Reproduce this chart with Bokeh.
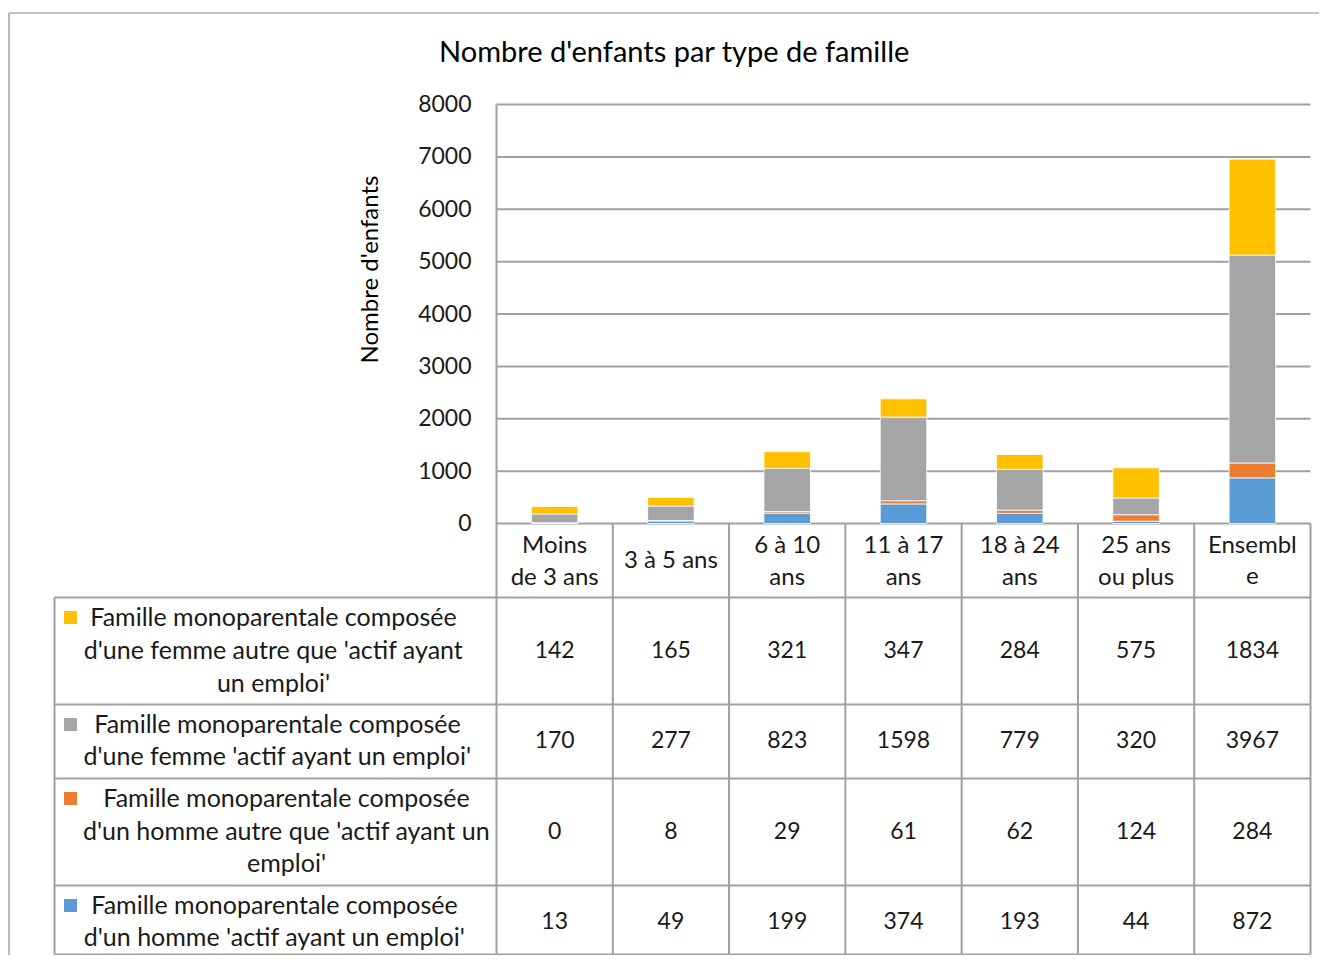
from bokeh.plotting import figure
from bokeh.models import Range1d, ColumnDataSource
from bokeh.core.properties import value
from bokeh.embed import file_html
from bokeh.resources import INLINE
import math

# ---------------- data ----------------
CATEGORIES = ["Moins de 3 ans", "3 à 5 ans", "6 à 10 ans", "11 à 17 ans",
              "18 à 24 ans", "25 ans ou plus", "Ensemble"]
CAT_LINES = [["Moins", "de 3 ans"], ["3 à 5 ans"], ["6 à 10", "ans"], ["11 à 17", "ans"],
             ["18 à 24", "ans"], ["25 ans", "ou plus"], ["Ensembl", "e"]]

FEMME_AUTRE = [142, 165, 321, 347, 284, 575, 1834]
FEMME_ACTIF = [170, 277, 823, 1598, 779, 320, 3967]
HOMME_AUTRE = [0, 8, 29, 61, 62, 124, 284]
HOMME_ACTIF = [13, 49, 199, 374, 193, 44, 872]

SERIES_LINES = [
    ["Famille monoparentale composée", "d'une femme autre que 'actif ayant", "un emploi'"],
    ["Famille monoparentale composée", "d'une femme 'actif ayant un emploi'"],
    ["Famille monoparentale composée", "d'un homme autre que 'actif ayant un", "emploi'"],
    ["Famille monoparentale composée", "d'un homme 'actif ayant un emploi'"],
]
TICKS = [0, 1000, 2000, 3000, 4000, 5000, 6000, 7000, 8000]
TITLE = "Nombre d'enfants par type de famille"
Y_LABEL = "Nombre d'enfants"

# ---------------- style / layout ----------------
C_YELLOW, C_GRAY, C_ORANGE, C_BLUE = "#FFC000", "#A5A5A5", "#ED7D31", "#5B9BD5"
LINE_C = "#a0a0a0"
TXT_C = "#1a1a1a"
FONT = value("Lato")
FS_NUM = "23px"
FS_TXT = "25px"
FS_CAT = "24px"
YOFF = -2

W, H = 1319, 955
OFF = 0
PLOT_L, PLOT_R = 496, 1310
Y0_PX, YMAX_PX = 523, 104
NCOL = len(CATEGORIES)
COL_W = (PLOT_R - PLOT_L) / NCOL
PX_PER_UNIT = (Y0_PX - YMAX_PX) / TICKS[-1]

TABLE_L = 54
ROW_BOUNDS = [597, 704, 778, 885, 954]
ROW_LINE_Y = [[617, 650, 683], [724, 756], [798, 831, 863], [905, 937]]
ROW_TEXT_X = [273, 277, 286, 274]
KEY_X = 70
HEADER_LINES_Y = {1: [560], 2: [545, 577]}

x_rng = Range1d((OFF - PLOT_L) / COL_W, (OFF + W - PLOT_L) / COL_W)
y_rng = Range1d((Y0_PX - (OFF + H)) / PX_PER_UNIT, (Y0_PX - OFF) / PX_PER_UNIT)

p = figure(width=W, height=H, x_range=x_rng, y_range=y_rng,
           output_backend="svg", toolbar_location=None, min_border=0,
           x_axis_type=None, y_axis_type=None)
p.outline_line_color = None
p.background_fill_color = "white"
p.border_fill_color = "white"
p.extra_x_ranges = {"px": Range1d(OFF, OFF + W)}
p.extra_y_ranges = {"px": Range1d(OFF + H, OFF)}

# outer border
p.segment(x0=[8.5, 8.5], y0=[12.5, 12.5], x1=[8.5, OFF + W], y1=[OFF + H, 12.5],
          x_range_name="px", y_range_name="px", line_color="#8a8a8a", line_width=1.2)

# gridlines (data units)
p.segment(x0=[0] * (len(TICKS)), x1=[NCOL] * len(TICKS), y0=TICKS, y1=TICKS,
          line_color=LINE_C, line_width=2)

# table lines (page px)
hx0, hx1, hy = [], [], []
for yb in ROW_BOUNDS:
    hx0.append(TABLE_L); hx1.append(PLOT_R); hy.append(yb)
p.segment(x0=hx0, x1=hx1, y0=hy, y1=hy, x_range_name="px", y_range_name="px",
          line_color=LINE_C, line_width=2)
vx = [PLOT_L + k * COL_W for k in range(1, NCOL + 1)]
p.segment(x0=vx, x1=vx, y0=[Y0_PX] * len(vx), y1=[ROW_BOUNDS[-1]] * len(vx),
          x_range_name="px", y_range_name="px", line_color=LINE_C, line_width=2)
p.segment(x0=[PLOT_L, TABLE_L], x1=[PLOT_L, TABLE_L], y0=[YMAX_PX, ROW_BOUNDS[0]],
          y1=[ROW_BOUNDS[-1], ROW_BOUNDS[-1]],
          x_range_name="px", y_range_name="px", line_color=LINE_C, line_width=2)

# stacked bars
src = ColumnDataSource(dict(
    x=[i + 0.5 for i in range(NCOL)],
    homme_actif=HOMME_ACTIF, homme_autre=HOMME_AUTRE,
    femme_actif=FEMME_ACTIF, femme_autre=FEMME_AUTRE))
p.vbar_stack(["homme_actif", "homme_autre", "femme_actif", "femme_autre"], x="x", width=0.4,
             color=[C_BLUE, C_ORANGE, C_GRAY, C_YELLOW], source=src,
             line_color="white", line_width=0.8)

# title and axis label
p.text(x=[674], y=[52], text=[TITLE], x_range_name="px", y_range_name="px",
       text_font=FONT, text_font_size="29px", text_align="center", y_offset=YOFF,
       text_baseline="middle", text_color="black")
p.text(x=[370], y=[269], text=[Y_LABEL], angle=math.pi / 2, x_range_name="px", y_range_name="px",
       text_font=FONT, text_font_size=FS_CAT, text_align="center", x_offset=YOFF,
       text_baseline="middle", text_color="black")

# y tick labels
p.text(x=[471] * len(TICKS), y=TICKS, text=[str(t) for t in TICKS], x_range_name="px",
       text_font=FONT, text_font_size=FS_NUM, text_align="right", text_baseline="middle",
       text_color=TXT_C, y_offset=-1)

# category header labels
cx, cy, ct = [], [], []
for i, lines in enumerate(CAT_LINES):
    for ln, yy in zip(lines, HEADER_LINES_Y[len(lines)]):
        cx.append(i + 0.5); cy.append(yy); ct.append(ln)
p.text(x=cx, y=cy, text=ct, y_range_name="px", text_font=FONT, text_font_size=FS_CAT,
       text_align="center", text_baseline="middle", text_color=TXT_C, y_offset=YOFF)

# table rows: legend keys, labels, values
rows = [FEMME_AUTRE, FEMME_ACTIF, HOMME_AUTRE, HOMME_ACTIF]
row_colors = [C_YELLOW, C_GRAY, C_ORANGE, C_BLUE]
lx, ly, lt = [], [], []
kx, ky, kc = [], [], []
vxs, vys, vts = [], [], []
for r, vals in enumerate(rows):
    for ln, yy in zip(SERIES_LINES[r], ROW_LINE_Y[r]):
        lx.append(ROW_TEXT_X[r]); ly.append(yy); lt.append(ln)
    kx.append(KEY_X); ky.append(ROW_LINE_Y[r][0]); kc.append(row_colors[r])
    yc = (ROW_BOUNDS[r] + ROW_BOUNDS[r + 1]) / 2 if r < 3 else 922
    for i, v in enumerate(vals):
        vxs.append(i + 0.5); vys.append(yc); vts.append(str(v))
p.text(x=lx, y=ly, text=lt, x_range_name="px", y_range_name="px", text_font=FONT,
       text_font_size=FS_TXT, text_align="center", text_baseline="middle", text_color=TXT_C,
       y_offset=YOFF)
p.rect(x=kx, y=ky, width=13, height=13, fill_color=kc, line_color=None,
       x_range_name="px", y_range_name="px")
p.text(x=vxs, y=vys, text=vts, y_range_name="px", text_font=FONT, text_font_size=FS_NUM,
       text_align="center", text_baseline="middle", text_color=TXT_C, y_offset=YOFF)

open("out.html", "w").write(file_html(p, INLINE))
